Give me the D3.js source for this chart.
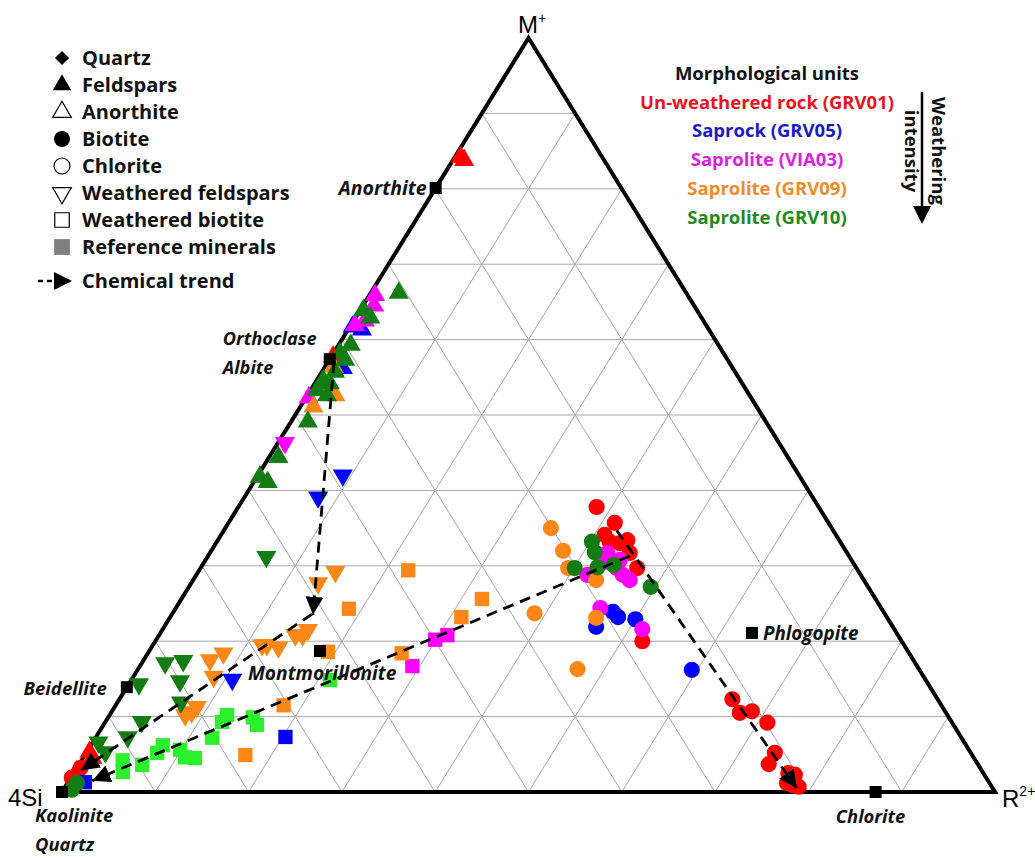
<!DOCTYPE html>
<html>
<head>
<meta charset="utf-8">
<script src="https://cdn.jsdelivr.net/npm/d3@7"></script>
<style>
    body { margin: 0; background: #ffffff; }
    text { font-family: "Open Sans", sans-serif; }
</style>
</head>
<body>
<div id="chart"></div>
<script>
// ternary values in %: [symbol, M+, R2+]   (4Si = 100 - M+ - R2+)
// fs = feldspar, wf = weathered feldspar, bt = biotite, wb = weathered biotite
const grv01 = [
    ["fs", 84.2, 0.6], ["fs", 83.8, 1.2], ["fs", 57.7, 0.2], ["fs", 5.3, 0.3], ["fs", 4.5, 1.0], ["fs", 2.7, 0.2],
    ["bt", 1.9, 0.1], ["bt", 3.2, 0.4],
    ["bt", 37.8, 38.4], ["bt", 35.7, 41.4], ["bt", 34.1, 41.1], ["bt", 33.2, 42.1], ["bt", 33.0, 43.3],
    ["bt", 33.4, 43.9], ["bt", 31.7, 45.0], ["bt", 29.7, 46.8], ["bt", 20.0, 52.2],
    ["bt", 12.3, 65.7], ["bt", 10.5, 67.4], ["bt", 10.7, 68.6], ["bt", 9.2, 71.0], ["bt", 5.2, 73.8],
    ["bt", 3.7, 73.9], ["bt", 2.5, 76.6], ["bt", 2.3, 77.4], ["bt", 1.2, 77.1], ["bt", 0.9, 77.9], ["bt", 0.7, 78.6]
];
const grv05 = [
    ["fs", 61.3, 1.5], ["fs", 61.7, 0.3], ["fs", 56.2, 2.0],
    ["wf", 42.0, 9.1], ["wf", 39.1, 7.9], ["wf", 14.9, 10.8],
    ["bt", 21.9, 46.3], ["bt", 23.9, 47.1], ["bt", 23.2, 48.0], ["bt", 22.9, 50.0], ["bt", 16.2, 59.4],
    ["wb", 7.3, 20.3], ["wb", 1.3, 1.8]
];
const via03 = [
    ["fs", 65.9, 0.6], ["fs", 64.5, 1.2], ["fs", 62.5, 1.2], ["fs", 61.9, 0.45], ["fs", 52.3, 0.3],
    ["wf", 46.3, 0.75],
    ["bt", 31.7, 42.6], ["bt", 30.8, 44.4], ["bt", 30.5, 43.0], ["bt", 29.7, 44.6], ["bt", 28.8, 45.7],
    ["bt", 28.1, 46.8], ["bt", 28.8, 41.9], ["bt", 24.4, 45.5], ["bt", 21.6, 51.4],
    ["wb", 20.2, 29.9], ["wb", 20.8, 30.9], ["wb", 16.7, 29.2]
];
const grv09 = [
    ["fs", 56.4, 0.9], ["fs", 52.6, 3.0], ["fs", 51.1, 1.4],
    ["wf", 29.2, 14.7], ["wf", 27.7, 13.6], ["wf", 21.5, 15.6], ["wf", 20.8, 15.4], ["wf", 20.8, 14.6],
    ["wf", 19.2, 13.6], ["wf", 19.5, 12.2], ["wf", 19.5, 11.7], ["wf", 18.4, 8.1], ["wf", 17.5, 7.1],
    ["wf", 15.3, 8.6], ["wf", 11.3, 8.8], ["wf", 10.6, 8.6], ["wf", 10.2, 8.1],
    ["bt", 35.0, 34.9], ["bt", 32.0, 37.7], ["bt", 29.7, 39.4], ["bt", 28.1, 43.2], ["bt", 23.1, 45.7],
    ["bt", 23.7, 38.8], ["bt", 16.3, 47.1],
    ["wb", 29.4, 22.4], ["wb", 24.3, 18.6], ["wb", 18.6, 19.2], ["wb", 18.4, 27.2], ["wb", 25.6, 32.2],
    ["wb", 23.2, 31.2], ["wb", 11.5, 18.0], ["wb", 4.9, 17.2]
];
const grv10 = [
    ["fs", 66.2, 3.0], ["fs", 63.9, 0.35], ["fs", 62.9, 1.6], ["fs", 59.3, 1.3], ["fs", 58.2, 0.7],
    ["fs", 57.3, 1.7], ["fs", 55.7, 1.4], ["fs", 54.6, 0.7], ["fs", 54.2, 1.6], ["fs", 53.3, 0.7],
    ["fs", 52.6, 2.1], ["fs", 49.1, 1.8], ["fs", 44.4, 1.0], ["fs", 41.8, 0.3], ["fs", 41.1, 1.5],
    ["wf", 31.2, 6.3], ["wf", 17.1, 2.5], ["wf", 17.4, 4.3], ["wf", 14.7, 5.3], ["wf", 14.3, 1.1],
    ["wf", 11.9, 6.8], ["wf", 9.3, 3.9], ["wf", 7.3, 3.4], ["wf", 6.6, 0.6], ["wf", 5.3, 2.0],
    ["bt", 33.2, 40.2], ["bt", 31.8, 41.2], ["bt", 29.7, 40.1], ["bt", 29.8, 42.5], ["bt", 30.1, 44.1],
    ["bt", 27.2, 49.5], ["bt", 0.3, 0.9], ["bt", 1.2, 1.0]
];
// bright green squares (GRV10 weathered biotite)
const grv10Light = [
    ["wb", 4.2, 4.4], ["wb", 2.65, 5.2], ["wb", 3.6, 6.8], ["wb", 6.2, 7.7], ["wb", 5.2, 7.6],
    ["wb", 5.6, 9.85], ["wb", 4.6, 10.9], ["wb", 4.5, 12.0], ["wb", 7.2, 12.5], ["wb", 9.3, 12.5],
    ["wb", 10.2, 12.6], ["wb", 9.9, 15.5], ["wb", 8.9, 16.45], ["wb", 14.85, 21.3]
];

const unitNames = ["Un-weathered rock (GRV01)", "Saprock (GRV05)", "Saprolite (VIA03)", "Saprolite (GRV09)", "Saprolite (GRV10)"];
const unitTextColors = ["#e8141c", "#1a1ac8", "#e01de0", "#f08a2c", "#1f8a1f"];
const markerColors = ["#ff0000", "#0000ff", "#ff00ff", "#ff8717", "#137c13", "#2cf02c"];
const unitData = [grv01, grv05, via03, grv09, grv10, grv10Light];

const legendNames = ["Quartz", "Feldspars", "Anorthite", "Biotite", "Chlorite", "Weathered feldspars", "Weathered biotite", "Reference minerals"];

// reference minerals [M+, R2+]
const refMinerals = [[80.1, 0.0], [57.4, 0.0], [13.9, 0.0], [18.7, 18.3], [21.1, 63.4], [0.0, 87.2], [0.0, 0.0]];
// labels: [text, mineral index]
const refLabels = [["Anorthite", 0], ["Orthoclase", 1], ["Albite", 1], ["Beidellite", 2], ["Montmorillonite", 3],
    ["Phlogopite", 4], ["Chlorite", 5], ["Kaolinite", 6], ["Quartz", 6]];

// chemical trends, [M+, R2+] from start to arrow tip
const trends = [
    [[57.0, 0.65], [23.5, 15.15]],
    [[23.6, 15.0], [2.9, 0.6]],
    [[31.3, 45.2], [1.5, 2.5]],
    [[34.7, 42.1], [0.5, 78.5]]
];

const width = 1035, height = 858;
const svg = d3.select("#chart").append("svg")
    .attr("width", width)
    .attr("height", height);

// scales
const xs = d3.scaleLinear().domain([0, 100]).range([62, 995]);
const ys = d3.scaleLinear().domain([0, 100]).range([792, 38]);
const px = (m, r) => xs(r + m / 2);
const py = m => ys(m);

// grid, every 10 %
const grid = svg.append("g")
    .attr("stroke", "#a8a8a8")
    .attr("stroke-width", 1);
d3.range(10, 100, 10).forEach(v => {
    grid.append("line")
        .attr("x1", px(v, 0)).attr("y1", py(v))
        .attr("x2", px(v, 100 - v)).attr("y2", py(v));
    grid.append("line")
        .attr("x1", px(0, v)).attr("y1", py(0))
        .attr("x2", px(100 - v, v)).attr("y2", py(100 - v));
    grid.append("line")
        .attr("x1", px(0, 100 - v)).attr("y1", py(0))
        .attr("x2", px(100 - v, 0)).attr("y2", py(100 - v));
});

// triangle frame
svg.append("path")
    .attr("d", "M" + px(100, 0) + "," + py(100) + "L" + px(0, 0) + "," + py(0) + "L" + px(0, 100) + "," + py(0) + "Z")
    .attr("fill", "none")
    .attr("stroke", "#000")
    .attr("stroke-width", 4);

// symbols
const sym = {
    fs: d3.symbol().type(d3.symbolTriangle).size(175)(),
    wf: d3.symbol().type(d3.symbolTriangle).size(175)(),
    bt: d3.symbol().type(d3.symbolCircle).size(205)(),
    wb: d3.symbol().type(d3.symbolSquare).size(205)()
};
const rot = t => t === "wf" ? " rotate(180)" : "";

// data points
unitData.forEach((data, i) => {
    svg.append("g")
        .selectAll("path")
        .data(data)
        .join("path")
        .attr("d", d => sym[d[0]])
        .attr("transform", d => "translate(" + px(d[1], d[2]) + "," + py(d[1]) + ")" + rot(d[0]))
        .attr("fill", markerColors[i]);
});

// arrow head for trends
svg.append("defs").append("marker")
    .attr("id", "arrow")
    .attr("viewBox", "0 0 18 18")
    .attr("refX", 18)
    .attr("refY", 9)
    .attr("markerWidth", 18)
    .attr("markerHeight", 18)
    .attr("markerUnits", "userSpaceOnUse")
    .attr("orient", "auto")
    .append("path")
    .attr("d", "M0,0L18,9L0,18Z")
    .attr("fill", "#000");

const line = d3.line().x(d => px(d[0], d[1])).y(d => py(d[0]));
svg.append("g")
    .selectAll("path")
    .data(trends)
    .join("path")
    .attr("d", line)
    .attr("fill", "none")
    .attr("stroke", "#000")
    .attr("stroke-width", 2.8)
    .attr("stroke-dasharray", "11,7")
    .attr("marker-end", "url(#arrow)");

// reference minerals
svg.append("g")
    .selectAll("rect")
    .data(refMinerals)
    .join("rect")
    .attr("x", d => px(d[0], d[1]) - 6)
    .attr("y", d => py(d[0]) - 6)
    .attr("width", 12)
    .attr("height", 12)
    .attr("fill", "#000");

// mineral labels
const labelPos = {
    "Anorthite": [-9, 0, "end", 19.5], "Orthoclase": [-107, -21, "start", 18.2], "Albite": [-107, 8, "start", 18.2],
    "Beidellite": [-20, 1, "end", 18.6], "Montmorillonite": [-72, 22, "start", 19.2], "Phlogopite": [11, 1, "start", 18.8],
    "Chlorite": [-5, 25, "middle", 18.4], "Kaolinite": [-27, 24, "start", 18.4], "Quartz": [-27, 53, "start", 18.4]
};
svg.append("g")
    .selectAll("text")
    .data(refLabels)
    .join("text")
    .attr("x", d => px(refMinerals[d[1]][0], refMinerals[d[1]][1]) + labelPos[d[0]][0])
    .attr("y", d => py(refMinerals[d[1]][0]) + labelPos[d[0]][1])
    .attr("dy", "0.35em")
    .attr("text-anchor", d => labelPos[d[0]][2])
    .attr("font-size", d => labelPos[d[0]][3])
    .attr("font-weight", "bold")
    .attr("font-style", "italic")
    .attr("fill", "#111")
    .text(d => d[0]);

// vertex labels
const vfont = "'Liberation Sans', Arial, sans-serif";
const vtx = svg.append("g")
    .attr("font-size", 24)
    .attr("fill", "#000");
let mt = vtx.append("text").attr("x", 518).attr("y", 33).style("font-family", vfont);
mt.append("tspan").text("M");
mt.append("tspan").attr("font-size", 14).attr("dy", -10).text("+");
vtx.append("text").attr("x", 8).attr("y", 806).style("font-family", vfont).text("4Si");
let rt = vtx.append("text").attr("x", 1002).attr("y", 807).style("font-family", vfont);
rt.append("tspan").text("R");
rt.append("tspan").attr("font-size", 14).attr("dy", -11).text("2+");

// left legend
const ly = d3.scaleLinear().domain([0, 7]).range([58, 247]);
const leg = svg.append("g");
const legSym = [
    [d3.symbol().type(d3.symbolSquare).size(100)(), "#000", "none", " rotate(45)"],
    [d3.symbol().type(d3.symbolTriangle).size(150)(), "#000", "none", ""],
    [d3.symbol().type(d3.symbolTriangle).size(150)(), "#fff", "#000", ""],
    [d3.symbol().type(d3.symbolCircle).size(200)(), "#000", "none", ""],
    [d3.symbol().type(d3.symbolCircle).size(200)(), "#fff", "#000", ""],
    [d3.symbol().type(d3.symbolTriangle).size(150)(), "#fff", "#000", " rotate(180)"],
    [d3.symbol().type(d3.symbolSquare).size(210)(), "#fff", "#000", ""],
    [d3.symbol().type(d3.symbolSquare).size(250)(), "#808080", "none", ""]
];
leg.selectAll("path")
    .data(legSym)
    .join("path")
    .attr("d", d => d[0])
    .attr("transform", (d, i) => "translate(62," + ly(i) + ")" + d[3])
    .attr("fill", d => d[1])
    .attr("stroke", d => d[2])
    .attr("stroke-width", 1.2);
leg.selectAll("text")
    .data(legendNames)
    .join("text")
    .attr("x", 82)
    .attr("y", (d, i) => ly(i))
    .attr("dy", "0.36em")
    .attr("font-size", 20)
    .attr("font-weight", "bold")
    .attr("fill", "#111")
    .text(d => d);

// chemical trend legend
leg.append("line")
    .attr("x1", 38).attr("y1", 281).attr("x2", 72).attr("y2", 281)
    .attr("stroke", "#000")
    .attr("stroke-width", 2.5)
    .attr("stroke-dasharray", "5,4")
    .attr("marker-end", "url(#arrow)");
leg.append("text")
    .attr("x", 82).attr("y", 281).attr("dy", "0.36em")
    .attr("font-size", 20)
    .attr("font-weight", "bold")
    .attr("fill", "#111")
    .text("Chemical trend");

// right legend
const rl = svg.append("g").attr("text-anchor", "middle").attr("font-weight", "bold").attr("font-size", 18.5);
rl.append("text").attr("x", 767).attr("y", 73).attr("dy", "0.36em").attr("fill", "#111").text("Morphological units");
const uy = d3.scaleLinear().domain([0, 4]).range([102, 217]);
rl.selectAll(".unit")
    .data(unitNames)
    .join("text")
    .attr("class", "unit")
    .attr("x", 767)
    .attr("y", (d, i) => uy(i))
    .attr("dy", "0.36em")
    .attr("fill", (d, i) => unitTextColors[i])
    .text(d => d);

// weathering intensity arrow
svg.append("line")
    .attr("x1", 922).attr("y1", 92).attr("x2", 922).attr("y2", 208)
    .attr("stroke", "#000").attr("stroke-width", 2.5);
svg.append("path")
    .attr("d", "M913,206L931,206L922,224Z")
    .attr("fill", "#000");
const wt = svg.append("g").attr("font-weight", "bold").attr("font-size", 18.5).attr("fill", "#111").attr("text-anchor", "middle");
wt.append("text").attr("transform", "translate(932,151) rotate(90)").text("Weathering");
wt.append("text").attr("transform", "translate(905,151) rotate(90)").text("intensity");
</script>
</body>
</html>
